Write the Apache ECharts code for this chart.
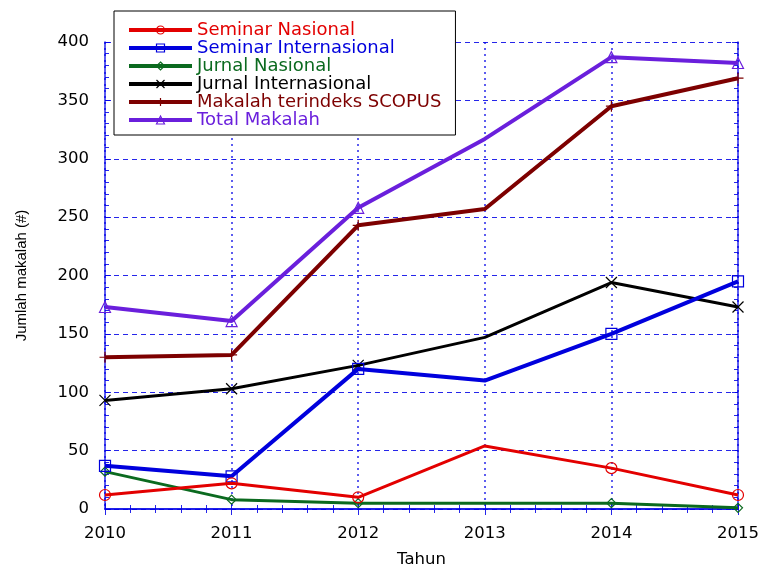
<!DOCTYPE html>
<html>
<head>
<meta charset="utf-8">
<script src="https://cdn.jsdelivr.net/npm/echarts@6/dist/echarts.min.js"></script>
<style>
  html, body { margin: 0; padding: 0; background: #fff; }
  #main { width: 766px; height: 573px; }
</style>
</head>
<body>
<div id="main"></div>
<script>
// data
var years = [2010, 2011, 2012, 2013, 2014, 2015];
var seminarNasional = [12, 22, 10, 54, 35, 12];
var seminarInternasional = [37, 28, 120, 110, 150, 195];
var jurnalNasional = [32, 8, 5, 5, 5, 1];
var jurnalInternasional = [93, 103, 123, 147, 194, 173];
var makalahScopus = [130, 132, 243, 257, 345, 369];
var totalMakalah = [173, 161, 258, 317, 387, 382];

var names = ["Seminar Nasional", "Seminar Internasional", "Jurnal Nasional",
  "Jurnal Internasional", "Makalah terindeks SCOPUS", "Total Makalah"];
var colors = ["#e30000", "#0000dd", "#0b6a1f", "#000000", "#7d0000", "#6a1fdc"];
var lists = [seminarNasional, seminarInternasional, jurnalNasional,
  jurnalInternasional, makalahScopus, totalMakalah];
var symbols = ["circle", "rect", "diamond",
  "path://M0,0L10,10M10,0L0,10", "path://M5,0L5,10M0,5L10,5", "triangle"];
var widths = [3, 4, 3, 3, 4, 4];

var font = "DejaVu Sans, sans-serif";
var gridBlue = "rgba(0,0,230,0.85)";

// no marker at 2013 in the original
function pairs(arr) {
  var res = [];
  for (var i = 0; i < years.length; i++) {
    var d = { value: [years[i], arr[i]] };
    if (years[i] == 2013) d.symbol = "none";
    res.push(d);
  }
  return res;
}

var series = [];
for (var i = 0; i < names.length; i++) {
  series.push({
    name: names[i],
    type: "line",
    data: pairs(lists[i]),
    symbol: symbols[i],
    symbolSize: i == 2 ? 9 : 11,
    showAllSymbol: true,
    lineStyle: { width: widths[i], color: colors[i] },
    itemStyle: { color: "rgba(0,0,0,0)", borderColor: colors[i], borderWidth: 1.2 },
    z: 3 + (names.length - i),
    animation: false
  });
}

var legendData = names.map(function(n, i) {
  return {
    name: n,
    textStyle: { color: colors[i] },
    lineStyle: { color: colors[i], width: 4 },
    itemStyle: { color: "rgba(0,0,0,0)", borderColor: colors[i], borderWidth: 1.2 }
  };
});

var option = {
  backgroundColor: "#fff",
  grid: { left: 105, right: 28, top: 42, bottom: 62 },
  legend: {
    data: legendData,
    orient: "vertical",
    left: 114,
    top: 11,
    itemWidth: 63,
    itemHeight: 10,
    itemGap: 0,
    padding: [10, 14, 6, 13],
    backgroundColor: "#fff",
    borderColor: "#000",
    borderWidth: 1,
    borderRadius: 0,
    textStyle: { fontFamily: font, fontSize: 18, lineHeight: 18 },
    z: 20
  },
  xAxis: [
    {
      type: "value",
      min: 2010,
      max: 2015,
      interval: 1,
      name: "Tahun",
      nameLocation: "middle",
      nameGap: 42,
      nameTextStyle: { fontFamily: font, fontSize: 16.5, color: "#000" },
      axisLine: { show: true, lineStyle: { color: gridBlue, width: 1.5 } },
      axisTick: { show: true, inside: true, length: 6, lineStyle: { color: gridBlue } },
      minorTick: { show: true, splitNumber: 5, length: 4, lineStyle: { color: gridBlue } },
      axisLabel: { fontFamily: font, fontSize: 16.5, color: "#000", margin: 16,
        formatter: function(v) { return String(v); } },
      splitLine: { show: true, lineStyle: { color: gridBlue, type: [2, 4], width: 1.5 } }
    },
    {
      type: "value",
      position: "top",
      min: 2010,
      max: 2015,
      interval: 1,
      axisLine: { show: true, lineStyle: { color: gridBlue, width: 1.5 } },
      axisTick: { show: true, inside: true, length: 6, lineStyle: { color: gridBlue } },
      minorTick: { show: true, splitNumber: 5, length: 4, lineStyle: { color: gridBlue } },
      axisLabel: { show: false },
      splitLine: { show: false }
    }
  ],
  yAxis: [
    {
      type: "value",
      min: 0,
      max: 400,
      interval: 50,
      name: "Jumlah makalah (#)",
      nameLocation: "middle",
      nameGap: 76,
      nameTextStyle: { fontFamily: "Liberation Sans Narrow, Liberation Sans, sans-serif",
        fontSize: 15, color: "#000" },
      axisLine: { show: true, lineStyle: { color: gridBlue, width: 1.5 } },
      axisTick: { show: true, inside: true, length: 6, lineStyle: { color: gridBlue } },
      minorTick: { show: true, splitNumber: 5, length: 4, lineStyle: { color: gridBlue } },
      axisLabel: { fontFamily: font, fontSize: 16.5, color: "#000", margin: 16 },
      splitLine: { show: true, lineStyle: { color: gridBlue, type: [5, 4], width: 1.2 } }
    },
    {
      type: "value",
      position: "right",
      min: 0,
      max: 400,
      interval: 50,
      axisLine: { show: true, lineStyle: { color: gridBlue, width: 1.5 } },
      axisTick: { show: true, inside: true, length: 6, lineStyle: { color: gridBlue } },
      minorTick: { show: true, splitNumber: 5, length: 4, lineStyle: { color: gridBlue } },
      axisLabel: { show: false },
      splitLine: { show: false }
    }
  ],
  series: series
};

var myChart = echarts.init(document.getElementById("main"));
myChart.setOption(option);
</script>
</body>
</html>
